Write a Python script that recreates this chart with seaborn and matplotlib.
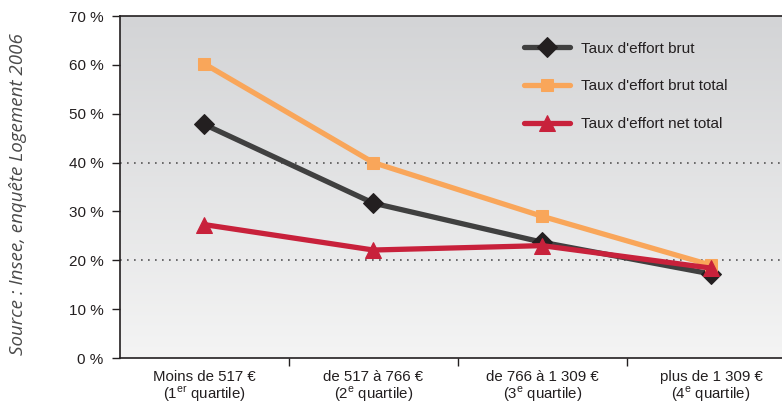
import numpy as np
import pandas as pd
import matplotlib
matplotlib.use("Agg")
import matplotlib.pyplot as plt
import seaborn as sns

categories = [
    "Moins de 517 €\n(1$^{\\mathrm{er}}$ quartile)",
    "de 517 à 766 €\n(2$^{\\mathrm{e}}$ quartile)",
    "de 766 à 1 309 €\n(3$^{\\mathrm{e}}$ quartile)",
    "plus de 1 309 €\n(4$^{\\mathrm{e}}$ quartile)",
]
taux_brut = [47.8, 31.7, 23.7, 17.2]
taux_brut_total = [60.2, 40.0, 29.0, 19.0]
taux_net_total = [27.3, 22.1, 23.0, 18.4]
series_names = ["Taux d'effort brut", "Taux d'effort brut total", "Taux d'effort net total"]
y_ticks = [0, 10, 20, 30, 40, 50, 60, 70]

sns.set_theme(style="ticks")
plt.rcParams["font.family"] = ["Liberation Sans", "DejaVu Sans"]
plt.rcParams["mathtext.fontset"] = "custom"
plt.rcParams["mathtext.rm"] = "Liberation Sans"

df = pd.DataFrame({
    "pos": list(range(len(categories))) * 3,
    "value": taux_brut + taux_brut_total + taux_net_total,
    "serie": np.repeat(series_names, len(categories)),
})

fig = plt.figure(figsize=(7.82, 4.05), dpi=100)
ax = fig.add_axes([120 / 782, 1 - 358 / 405, 662 / 782, (358 - 16) / 405])

# vertical grey gradient behind the plot, darker at the top
grad = np.linspace(0, 1, 256).reshape(-1, 1)
cmap = matplotlib.colors.LinearSegmentedColormap.from_list("bg", ["#d3d4d6", "#f4f4f4"])
ax.imshow(grad, aspect="auto", cmap=cmap, extent=[-0.5, 3.42, 0, 70],
          origin="upper", zorder=0, interpolation="bicubic")

styles = {
    series_names[0]: dict(color="#404040", marker="D", markersize=10.5,
                          markerfacecolor="#231f20", markeredgecolor="#231f20"),
    series_names[1]: dict(color="#f9a65a", marker="s", markersize=8,
                          markerfacecolor="#f9a65a", markeredgecolor="#f9a65a"),
    series_names[2]: dict(color="#c8213b", marker="^", markersize=12,
                          markerfacecolor="#c8213b", markeredgecolor="#c8213b"),
}
for name in series_names:
    sub = df[df["serie"] == name]
    sns.lineplot(data=sub, x="pos", y="value", ax=ax, label=name,
                 linewidth=3.8, zorder=3, **styles[name])

for yv in (20, 40):
    ax.axhline(yv, color="#555555", linestyle=(0, (1, 3.2)), linewidth=1.2, zorder=1)

ax.set_xlim(-0.5, 3.42)
ax.set_ylim(0, 70)
ax.set_yticks(y_ticks)
ax.set_yticklabels([f"{v} %" for v in y_ticks], fontsize=11, color="#231f20")
ax.set_xticks([0.5, 1.5, 2.5])
ax.set_xticklabels([])
for i, lab in enumerate(categories):
    ax.text(i, -2.5, lab, ha="center", va="top", fontsize=10.8, color="#231f20",
            linespacing=1.0)
ax.set_xlabel("")
ax.set_ylabel("")
ax.tick_params(axis="both", direction="out", length=6, width=1, color="#231f20")
ax.tick_params(axis="y", pad=6)

for side in ("left", "bottom", "top"):
    ax.spines[side].set_visible(True)
    ax.spines[side].set_color("#231f20")
    ax.spines[side].set_linewidth(1.2)
ax.spines["right"].set_visible(False)

leg = ax.legend(loc="upper left", bbox_to_anchor=(0.59, 0.965), frameon=False,
                fontsize=11, handlelength=3.0, handletextpad=0.7,
                labelspacing=1.55, numpoints=1)
for t in leg.get_texts():
    t.set_color("#231f20")

fig.text(18 / 782, 1 - 194 / 405, "Source : Insee, enquête Logement 2006",
         rotation=90, ha="center", va="center", fontsize=13.5, style="italic",
         color="#4a4a4a", family=["Open Sans", "DejaVu Sans"])

fig.savefig("out.png", dpi=100)
